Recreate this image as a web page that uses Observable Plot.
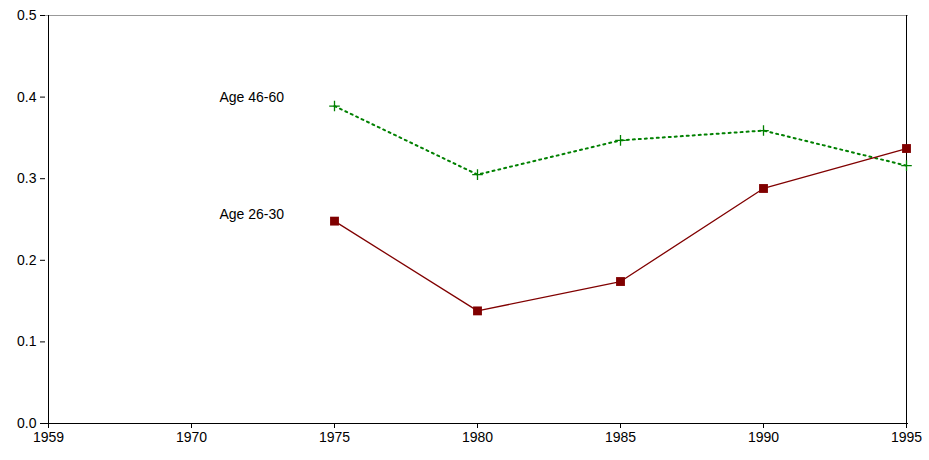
<!DOCTYPE html>
<html><head><meta charset="utf-8">
<script src="https://cdn.jsdelivr.net/npm/d3@7"></script>
<script src="https://cdn.jsdelivr.net/npm/@observablehq/plot@0.6"></script>
<style>body{margin:0;background:#fff;font-family:"Liberation Sans",Arial,sans-serif}</style>
</head><body><div id="chart"></div>
<script>
const tickYears = ["1959", "1970", "1975", "1980", "1985", "1990", "1995"];
const years = ["1975", "1980", "1985", "1990", "1995"];
const age4660 = [0.389, 0.305, 0.347, 0.359, 0.316];
const age2630 = [0.248, 0.138, 0.174, 0.288, 0.337];

const green = years.map((y, i) => ({year: y, v: age4660[i]}));
const red = years.map((y, i) => ({year: y, v: age2630[i]}));

const chart = Plot.plot({
  width: 929, height: 460,
  marginLeft: 45, marginRight: 21, marginTop: 15, marginBottom: 37,
  style: {fontFamily: "Liberation Sans, Arial, sans-serif", fontSize: "14px", color: "#000"},
  x: {type: "point", domain: tickYears, padding: 0, label: null, tickSize: 5, tickPadding: 4},
  y: {domain: [0, 0.5], ticks: [0, 0.1, 0.2, 0.3, 0.4, 0.5], tickFormat: d3.format(".1f"), label: null, tickSize: 5, tickPadding: 4},
  marks: [
    Plot.ruleY([0.5], {stroke: "#999"}),
    Plot.ruleX(["1995"], {stroke: "#000"}),
    Plot.ruleX(["1959"], {stroke: "#000"}),
    Plot.ruleY([0], {stroke: "#000"}),
    Plot.line(green, {x: "year", y: "v", stroke: "#008000", strokeWidth: 2, strokeDasharray: "2,4"}),
    Plot.dot(green, {x: "year", y: "v", symbol: "plus", r: 3.5, stroke: "#008000", strokeWidth: 1.3}),
    Plot.line(red, {x: "year", y: "v", stroke: "#800000", strokeWidth: 1.3}),
    Plot.dot(red, {x: "year", y: "v", symbol: "square", r: 5, fill: "#800000", stroke: "none"}),
    Plot.text(["Age 46-60"], {x: () => "1970", y: () => 0.4, text: d => d, dx: 28, fontSize: 14, textAnchor: "start"}),
    Plot.text(["Age 26-30"], {x: () => "1970", y: () => 0.256, text: d => d, dx: 28, fontSize: 14, textAnchor: "start"})
  ]
});
document.getElementById("chart").appendChild(chart);
</script></body></html>
